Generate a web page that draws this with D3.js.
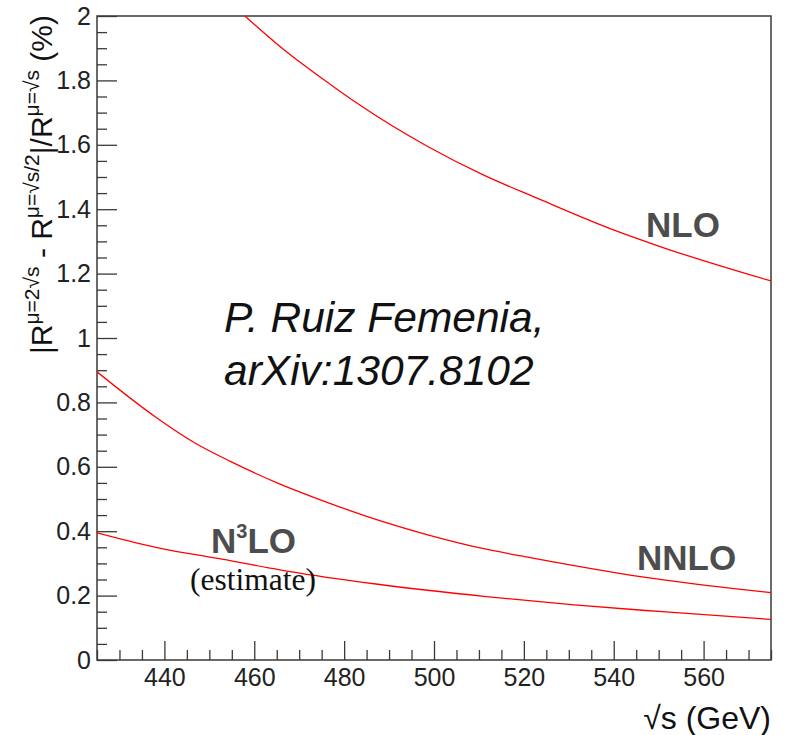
<!DOCTYPE html>
<html>
<head>
<meta charset="utf-8">
<script src="https://cdn.jsdelivr.net/npm/d3@7"></script>
<style>
  html, body { margin: 0; padding: 0; background: #fff; }
  svg { display: block; }
  text { font-family: "Liberation Sans", Arial, sans-serif; }
</style>
</head>
<body>
<svg id="chart" width="786" height="735"></svg>
<script>
// ---- data ----
const nloX  = [457.9, 466.2, 477.1, 482.9, 498.7, 511.2, 522.8, 539.5, 550.3, 575];
const nloY  = [2.000, 1.900, 1.786, 1.729, 1.594, 1.505, 1.435, 1.338, 1.284, 1.177];
const nnloX = [425, 438.1, 446.9, 454.8, 465.6, 474.4, 488.1, 498.8, 511.6, 521.4, 545.9, 575];
const nnloY = [0.895, 0.754, 0.673, 0.616, 0.547, 0.499, 0.432, 0.388, 0.344, 0.318, 0.259, 0.209];
const n3loX = [425, 438.1, 452.8, 470.4, 487.1, 511.6, 531.2, 550.8, 575];
const n3loY = [0.395, 0.350, 0.313, 0.269, 0.236, 0.197, 0.171, 0.150, 0.126];

const xDomain = [425, 575];
const yDomain = [0, 2];
const xMajorTicks = [440, 460, 480, 500, 520, 540, 560];
const yMajorTicks = [0, 0.2, 0.4, 0.6, 0.8, 1, 1.2, 1.4, 1.6, 1.8, 2];

(function () {
// ---- layout ----
const svg = d3.select("#chart");
const mL = 97, mR = 771, mT = 16, mB = 660;
const x = d3.scaleLinear().domain(xDomain).range([mL, mR]);
const y = d3.scaleLinear().domain(yDomain).range([mB, mT]);

const xMinor = d3.range(425, 575.01, 5).filter(v => !xMajorTicks.includes(v));
const yMinor = d3.range(0, 2.001, 0.05).map(v => +v.toFixed(2))
  .filter(v => !yMajorTicks.some(t => Math.abs(t - v) < 1e-6));

const axisColor = "#3a3a3a";

// x axis
const gx = svg.append("g").attr("transform", `translate(0,${mB})`);
gx.call(d3.axisBottom(x).tickValues(xMajorTicks).tickSizeInner(-19).tickSizeOuter(0).tickPadding(8)
  .tickFormat(d3.format("d")));
const gxm = svg.append("g").attr("transform", `translate(0,${mB})`);
gxm.call(d3.axisBottom(x).tickValues(xMinor).tickSizeInner(-10).tickSizeOuter(0).tickFormat(""));

// y axis
const gy = svg.append("g").attr("transform", `translate(${mL},0)`);
gy.call(d3.axisLeft(y).tickValues(yMajorTicks).tickSizeInner(-20).tickSizeOuter(0).tickPadding(6)
  .tickFormat(d => String(+d.toFixed(1))));
const gym = svg.append("g").attr("transform", `translate(${mL},0)`);
gym.call(d3.axisLeft(y).tickValues(yMinor).tickSizeInner(-10).tickSizeOuter(0).tickFormat(""));

[gx, gxm, gy, gym].forEach(g => {
  g.select(".domain").remove();
  g.selectAll(".tick line").attr("stroke", axisColor).attr("stroke-width", 1.3);
  g.selectAll(".tick text").attr("fill", "#222").style("font-size", "25px")
    .style("font-family", '"Liberation Sans", Arial, sans-serif');
});
gx.selectAll(".tick text").attr("dy", "0.71em");

// frame
svg.append("rect").attr("x", mL).attr("y", mT)
  .attr("width", mR - mL).attr("height", mB - mT)
  .attr("fill", "none").attr("stroke", axisColor).attr("stroke-width", 1.5);

// clip
svg.append("clipPath").attr("id", "clip").append("rect")
  .attr("x", mL).attr("y", mT).attr("width", mR - mL).attr("height", mB - mT);

const line = d3.line().x(d => x(d[0])).y(d => y(d[1])).curve(d3.curveMonotoneX);
const series = [d3.zip(nloX, nloY), d3.zip(nnloX, nnloY), d3.zip(n3loX, n3loY)];
svg.append("g").attr("clip-path", "url(#clip)")
  .selectAll("path").data(series).join("path")
  .attr("d", line).attr("fill", "none").attr("stroke", "#ff0000").attr("stroke-width", 1.3);

// labels on curves
const labColor = "#4d4d4d";
svg.append("text").attr("x", 646).attr("y", 237).attr("fill", labColor)
  .style("font-size", "35px").style("font-weight", "bold").text("NLO");
svg.append("text").attr("x", 637).attr("y", 570).attr("fill", labColor)
  .style("font-size", "35px").style("font-weight", "bold").text("NNLO");
const n3 = svg.append("text").attr("x", 211).attr("y", 553).attr("fill", labColor)
  .style("font-size", "35px").style("font-weight", "bold");
n3.append("tspan").text("N");
n3.append("tspan").attr("dy", -15).style("font-size", "20px").text("3");
n3.append("tspan").attr("dy", 15).text("LO");
svg.append("text").attr("x", 190).attr("y", 590).attr("fill", "#111")
  .style("font-family", '"Liberation Serif", "Times New Roman", serif')
  .style("font-size", "31.5px").text("(estimate)");

// citation
svg.append("text").attr("x", 224).attr("y", 332).attr("fill", "#111")
  .style("font-size", "42.5px").style("font-style", "italic").text("P. Ruiz Femenia,");
svg.append("text").attr("x", 224).attr("y", 385).attr("fill", "#111")
  .style("font-size", "42.5px").style("font-style", "italic").text("arXiv:1307.8102");

// x axis title
svg.append("text").attr("x", mR).attr("y", 729).attr("text-anchor", "end").attr("fill", "#111")
  .style("font-size", "32px").text("\u221As (GeV)");

// y axis title (rotated)
const yt = svg.append("text").attr("transform", "translate(52,354) rotate(-90)")
  .attr("fill", "#111").style("font-size", "30px");
const parts = [
  ["|R", false], ["\u03BC=2\u221As", true], [" - R", false], ["\u03BC=\u221As/2", true],
  ["|/R", false], ["\u03BC=\u221As", true], [" (%)", false]
];
let up = false;
parts.forEach(([t, sup]) => {
  const ts = yt.append("tspan").text(t);
  if (sup && !up) { ts.attr("dy", -13).style("font-size", "21px"); up = true; }
  else if (sup) { ts.style("font-size", "21px"); }
  else if (up) { ts.attr("dy", 13); up = false; }
});
})();
</script>
</body>
</html>
